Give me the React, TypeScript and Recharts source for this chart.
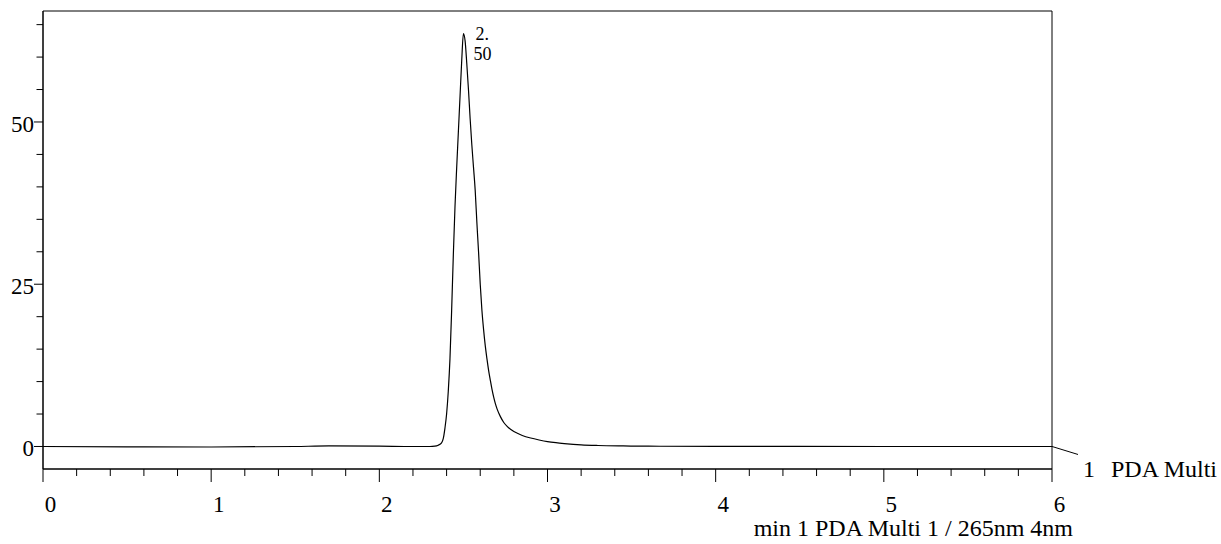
import { LineChart, Line, XAxis, YAxis, ReferenceArea, ReferenceDot } from 'recharts'

const serif = '"Liberation Serif", "Times New Roman", serif'

// retention time (min) and absorbance (mAU)
const times = [
  0, 0.5, 1.0, 1.5, 1.7, 2.0, 2.2, 2.3, 2.33, 2.35, 2.37, 2.38, 2.39, 2.4, 2.41, 2.42, 2.43,
  2.44, 2.45, 2.46, 2.47, 2.48, 2.49, 2.5, 2.51, 2.52, 2.53, 2.54, 2.55, 2.56, 2.57, 2.58,
  2.59, 2.6, 2.61, 2.62, 2.63, 2.64, 2.65, 2.66, 2.67, 2.68, 2.69, 2.7, 2.72, 2.74, 2.76,
  2.78, 2.8, 2.85, 2.9, 2.95, 3.0, 3.05, 3.1, 3.2, 3.3, 3.45, 3.6, 4.0, 5.0, 6.0,
]
const signal = [
  0, -0.05, -0.08, 0, 0.08, 0.05, 0, 0, 0.05, 0.2, 0.55, 1.2, 2.8, 5.0, 8.5, 13.5, 21,
  29.5, 37, 43, 48.5, 54, 59.5, 63.6, 62.5, 59, 55, 50.5, 46.5, 43, 39.5, 34.5,
  30, 25, 21, 18, 15.5, 13.5, 11.7, 10.2, 8.8, 7.6, 6.6, 5.8, 4.6, 3.7, 3.1,
  2.65, 2.3, 1.7, 1.3, 1.0, 0.75, 0.58, 0.45, 0.25, 0.15, 0.08, 0.04, 0.02, 0, 0,
]

const xTicks = [
  0, 0.2, 0.4, 0.6, 0.8, 1, 1.2, 1.4, 1.6, 1.8, 2, 2.2, 2.4, 2.6, 2.8, 3,
  3.2, 3.4, 3.6, 3.8, 4, 4.2, 4.4, 4.6, 4.8, 5, 5.2, 5.4, 5.6, 5.8, 6,
]
const xLabels = [0, 1, 2, 3, 4, 5, 6]
const yTicks = [0, 5, 10, 15, 20, 25, 30, 35, 40, 45, 50, 55, 60, 65]
const yLabels = [0, 25, 50]
const xDomain = [0, 6]
const yDomain = [-3.47, 67.1]

const peakTime = 2.5
const peakHeight = 63.6
const peakLabel = ['2.', '50']
const traceLabel = ['1', 'PDA Multi']
const axisTitle = 'min 1 PDA Multi 1 / 265nm 4nm'

const data = times.map((t, i) => ({ t, v: signal[i] }))

const textStyle = { fontFamily: serif }

function XTick({ x, y, payload }: any) {
  const major = xLabels.includes(payload.value)
  return (
    <g>
      <line x1={x} y1={y} x2={x} y2={y + (major ? 13 : 7)} stroke="#000" />
      {major && (
        <text x={x + 7.5} y={y + 43} textAnchor="middle" fontSize={23} style={textStyle} fill="#000">
          {payload.value}
        </text>
      )}
    </g>
  )
}

function YTick({ x, y, payload }: any) {
  const major = yLabels.includes(payload.value)
  return (
    <g>
      <line x1={x - (major ? 9 : 6.5)} y1={y} x2={x} y2={y} stroke="#000" />
      {major && (
        <text x={x - 9} y={y + 10} textAnchor="end" fontSize={23} style={textStyle} fill="#000">
          {payload.value}
        </text>
      )}
    </g>
  )
}

function PeakLabel({ cx, cy }: any) {
  return (
    <g fontSize={18} fill="#000" style={textStyle}>
      <text x={cx + 12} y={cy + 6} style={textStyle}>{peakLabel[0]}</text>
      <text x={cx + 10} y={cy + 26} style={textStyle}>{peakLabel[1]}</text>
    </g>
  )
}

function TraceLabel({ cx, cy }: any) {
  return (
    <g fontSize={24} fill="#000">
      <line x1={cx} y1={cy} x2={cx + 26} y2={cy + 8} stroke="#000" />
      <text x={cx + 31} y={cy + 31} style={textStyle}>{traceLabel[0]}</text>
      <text x={cx + 59} y={cy + 31} style={textStyle}>{traceLabel[1]}</text>
    </g>
  )
}

function AxisTitle({ viewBox }: any) {
  return (
    <text
      x={viewBox.x + viewBox.width + 21}
      y={viewBox.y + 67}
      textAnchor="end"
      fontSize={24}
      style={textStyle}
      fill="#000"
    >
      {axisTitle}
    </text>
  )
}

export default function App() {
  return (
    <div style={{ position: 'absolute', left: 0, top: 0, background: '#fff', fontFamily: serif }}>
      <LineChart width={1221} height={544} data={data} margin={{ top: 11, right: 169, bottom: 74, left: 42 }}>
        <XAxis
          dataKey="t"
          type="number"
          domain={xDomain}
          ticks={xTicks}
          interval={0}
          height={1}
          tickSize={0}
          tickMargin={0}
          tick={(props: any) => <XTick {...props} />}
          stroke="#000"
          label={{ content: (props: any) => <AxisTitle {...props} /> }}
        />
        <YAxis
          type="number"
          domain={yDomain}
          ticks={yTicks}
          interval={0}
          width={1}
          tickSize={0}
          tickMargin={0}
          tick={(props: any) => <YTick {...props} />}
          stroke="#000"
          allowDataOverflow
        />
        <ReferenceArea x1={xDomain[0]} x2={xDomain[1]} y1={yDomain[0]} y2={yDomain[1]} fill="none" stroke="#000" />
        <Line
          type="monotone"
          dataKey="v"
          stroke="#000"
          strokeWidth={1.2}
          dot={false}
          isAnimationActive={false}
        />
        <ReferenceDot x={peakTime} y={peakHeight} r={0} shape={(p: any) => <PeakLabel {...p} />} ifOverflow="visible" />
        <ReferenceDot x={xDomain[1]} y={0} r={0} shape={(p: any) => <TraceLabel {...p} />} ifOverflow="visible" />
      </LineChart>
    </div>
  )
}
